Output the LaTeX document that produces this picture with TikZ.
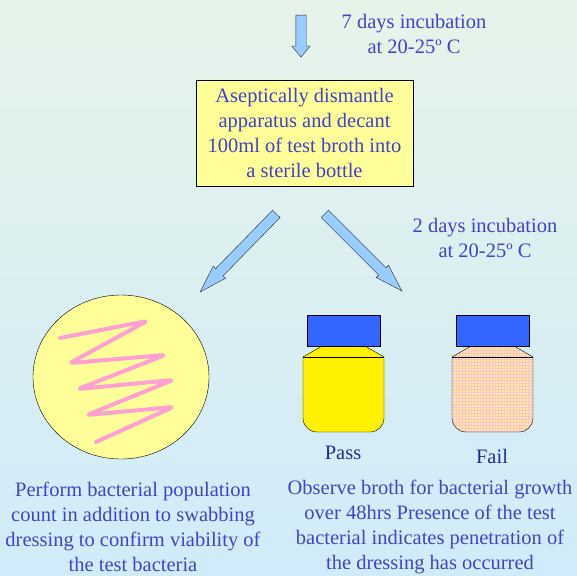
\documentclass[tikz,border=0pt]{standalone}
\usepackage{fontspec}
\setmainfont{Liberation Serif}
\usetikzlibrary{shapes.geometric,shapes.arrows,patterns}

\definecolor{bgtop}{RGB}{230,243,233}
\definecolor{bgbottom}{RGB}{208,235,250}
\definecolor{textblue}{RGB}{66,66,200}
\definecolor{jarblue}{RGB}{30,45,150}
\definecolor{boxyellow}{RGB}{255,255,153}
\definecolor{arrowblue}{RGB}{153,204,255}
\definecolor{arrowedge}{RGB}{40,40,40}
\definecolor{streak}{RGB}{255,160,210}
\definecolor{lidblue}{RGB}{51,102,255}
\definecolor{peach}{RGB}{255,236,150}
\definecolor{gridpink}{RGB}{250,195,210}

\begin{document}
\begin{tikzpicture}[x=1pt,y=-1pt]
    \tikzstyle{note} = [text=textblue, align=center, font=\fontsize{20.5}{25}\selectfont]
    \tikzstyle{block} = [note, rectangle, draw, fill=boxyellow, minimum width=217pt, minimum height=106pt]
    \tikzstyle{fatarrow} = [single arrow, draw=arrowedge, fill=arrowblue, inner sep=0pt, inner ysep=5pt, single arrow head extend=3.5pt, single arrow tip angle=35]
    \tikzstyle{jarlid} = [draw, fill=lidblue]
    \tikzstyle{passjar} = [draw, fill=yellow]
    \tikzstyle{failjar} = [draw, preaction={fill=peach}, pattern=grid, pattern color=gridpink]
    \tikzstyle{jartext} = [note, text=jarblue]

    % background
    \shade[top color=bgtop, bottom color=bgbottom] (0,0) rectangle (577,575);
    \useasboundingbox (0,0) rectangle (577,575);

    \node (down) [fatarrow, minimum height=42pt, single arrow head extend=4pt, single arrow tip angle=79, rotate=-90] at (301,33) {};
    \node (incubate7) [note] at (414,34) {7 days incubation\\ at 20-25º C};
    \node (dismantle) [block] at (304.5,133) {Aseptically dismantle\\ apparatus and decant\\ 100ml of test broth into\\ a sterile bottle};

    \node (toplate) [fatarrow, minimum height=109pt, rotate=225.7] at (244,247) {};
    \node (tojars) [fatarrow, minimum height=109pt, rotate=-45] at (357.5,246.5) {};
    \node (incubate2) [note] at (485,238) {2 days incubation\\ at 20-25º C};

    % agar plate with streak
    \node (plate) [ellipse, draw, fill=boxyellow, minimum width=176pt, minimum height=164pt] at (121,377) {};
    \draw [streak, line width=4pt, line cap=round, line join=round, rounded corners=3pt]
        (60,338) -- (147,321) -- (70,363) -- (165,355) -- (78,389) -- (173,380) -- (87,415) -- (173,407) -- (96,442);
    \node (counttext) [note] at (133,527) {Perform bacterial population\\ count in addition to swabbing\\ dressing to confirm viability of\\ the test bacteria};

    % bottles
    \foreach \dx/\jar in {0/passjar, 149/failjar} {
        \begin{scope}[xshift=\dx pt]
            \draw [\jar] (303,357) -- (322,346) -- (365,346) -- (384,357) -- (384,418)
                arc (0:90:14) -- (317,432) arc (90:180:14) -- cycle;
            \draw (303,357) -- (384,357);
            \draw [jarlid] (307,315) rectangle (380,346);
        \end{scope}
    }
    \node (pass) [jartext] at (343,453) {Pass};
    \node (fail) [jartext] at (492,456) {Fail};
    \node (observetext) [note] at (430,527) {Observe broth for bacterial growth\\ over 48hrs Presence of the test\\ bacterial indicates penetration of\\ the dressing has occurred};

\end{tikzpicture}
\end{document}
